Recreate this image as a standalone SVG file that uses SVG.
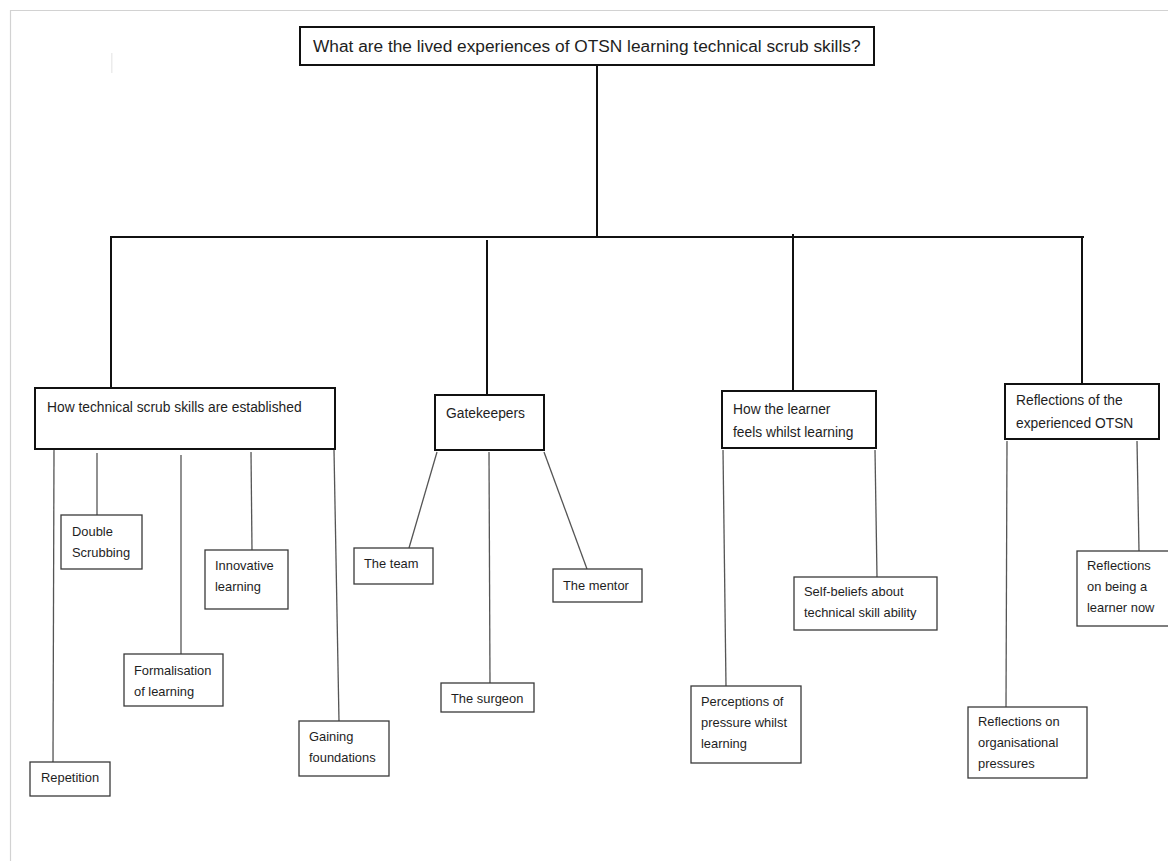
<svg xmlns="http://www.w3.org/2000/svg" width="1168" height="861" viewBox="0 0 1168 861">
<style>
text{font-family:"Liberation Sans",Arial,sans-serif;fill:#1e1e1e}
.t{font-size:17.3px}
.h{font-size:13.8px}
.c{font-size:12.9px}
.main{fill:#fff;stroke:#111;stroke-width:2}
.sub{fill:#fff;stroke:#3a3a3a;stroke-width:1.3}
.bar{fill:none;stroke:#111;stroke-width:2}
.ln{fill:none;stroke:#555;stroke-width:1.3}
</style>
<rect width="1168" height="861" fill="#fff"/>
<path d="M10.5,861 V10.5 H1168" fill="none" stroke="#d2d2d2" stroke-width="1.2"/>
<rect x="111" y="53" width="1.5" height="20" fill="#ececec"/>
<g id="connectors">
<path class="bar" d="M597,66 V237"/>
<path class="bar" d="M110,237 H1084"/>
<path class="bar" d="M111,237 V388"/>
<path class="bar" d="M487,240 V395"/>
<path class="bar" d="M793,234 V391"/>
<path class="bar" d="M1082,237 V384"/>
<path class="ln" d="M54,450 L53,762"/>
<path class="ln" d="M97,453 V515"/>
<path class="ln" d="M181,455 V654"/>
<path class="ln" d="M251,452 L252,550"/>
<path class="ln" d="M334,450 L339,721"/>
<path class="ln" d="M437,452 L409,548"/>
<path class="ln" d="M489,452 L490,683"/>
<path class="ln" d="M544,452 L587,569"/>
<path class="ln" d="M723,450 L726,686"/>
<path class="ln" d="M875,450 L877,577"/>
<path class="ln" d="M1007,441 L1006,707"/>
<path class="ln" d="M1137,441 L1139,551"/>
</g>
<g id="title"><rect class="main" x="300" y="27" width="574" height="38"/><text class="t" x="313" y="52">What are the lived experiences of OTSN learning technical scrub skills?</text></g>
<g id="established"><rect class="main" x="35" y="388" width="300" height="61"/><text class="h" x="47" y="412">How technical scrub skills are established</text></g>
<g id="gatekeepers"><rect class="main" x="435" y="395" width="109" height="55"/><text class="h" x="446" y="418">Gatekeepers</text></g>
<g id="feels"><rect class="main" x="722" y="391" width="154" height="57"/><text class="h" x="733" y="414">How the learner</text><text class="h" x="733" y="437">feels whilst learning</text></g>
<g id="reflections"><rect class="main" x="1005" y="384" width="154" height="55"/><text class="h" x="1016" y="405">Reflections of the</text><text class="h" x="1016" y="428">experienced OTSN</text></g>
<g id="repetition"><rect class="sub" x="30" y="762" width="80" height="34"/><text class="c" x="41" y="782">Repetition</text></g>
<g id="double"><rect class="sub" x="61" y="515" width="81" height="54"/><text class="c" x="72" y="536">Double</text><text class="c" x="72" y="557">Scrubbing</text></g>
<g id="formalisation"><rect class="sub" x="124" y="654" width="99" height="52"/><text class="c" x="134" y="675">Formalisation</text><text class="c" x="134" y="696">of learning</text></g>
<g id="innovative"><rect class="sub" x="205" y="550" width="83" height="59"/><text class="c" x="215" y="570">Innovative</text><text class="c" x="215" y="591">learning</text></g>
<g id="gaining"><rect class="sub" x="299" y="721" width="90" height="55"/><text class="c" x="309" y="741">Gaining</text><text class="c" x="309" y="762">foundations</text></g>
<g id="team"><rect class="sub" x="354" y="548" width="79" height="36"/><text class="c" x="364" y="568">The team</text></g>
<g id="surgeon"><rect class="sub" x="441" y="683" width="93" height="29"/><text class="c" x="451" y="703">The surgeon</text></g>
<g id="mentor"><rect class="sub" x="553" y="569" width="89" height="33"/><text class="c" x="563" y="590">The mentor</text></g>
<g id="perceptions"><rect class="sub" x="691" y="686" width="110" height="77"/><text class="c" x="701" y="706">Perceptions of</text><text class="c" x="701" y="727">pressure whilst</text><text class="c" x="701" y="748">learning</text></g>
<g id="selfbeliefs"><rect class="sub" x="794" y="577" width="143" height="53"/><text class="c" x="804" y="596">Self-beliefs about</text><text class="c" x="804" y="617">technical skill ability</text></g>
<g id="organisational"><rect class="sub" x="968" y="707" width="119" height="71"/><text class="c" x="978" y="726">Reflections on</text><text class="c" x="978" y="747">organisational</text><text class="c" x="978" y="768">pressures</text></g>
<g id="learnernow"><rect class="sub" x="1077" y="551" width="100" height="75"/><text class="c" x="1087" y="570">Reflections</text><text class="c" x="1087" y="591">on being a</text><text class="c" x="1087" y="612">learner now</text></g>
</svg>
